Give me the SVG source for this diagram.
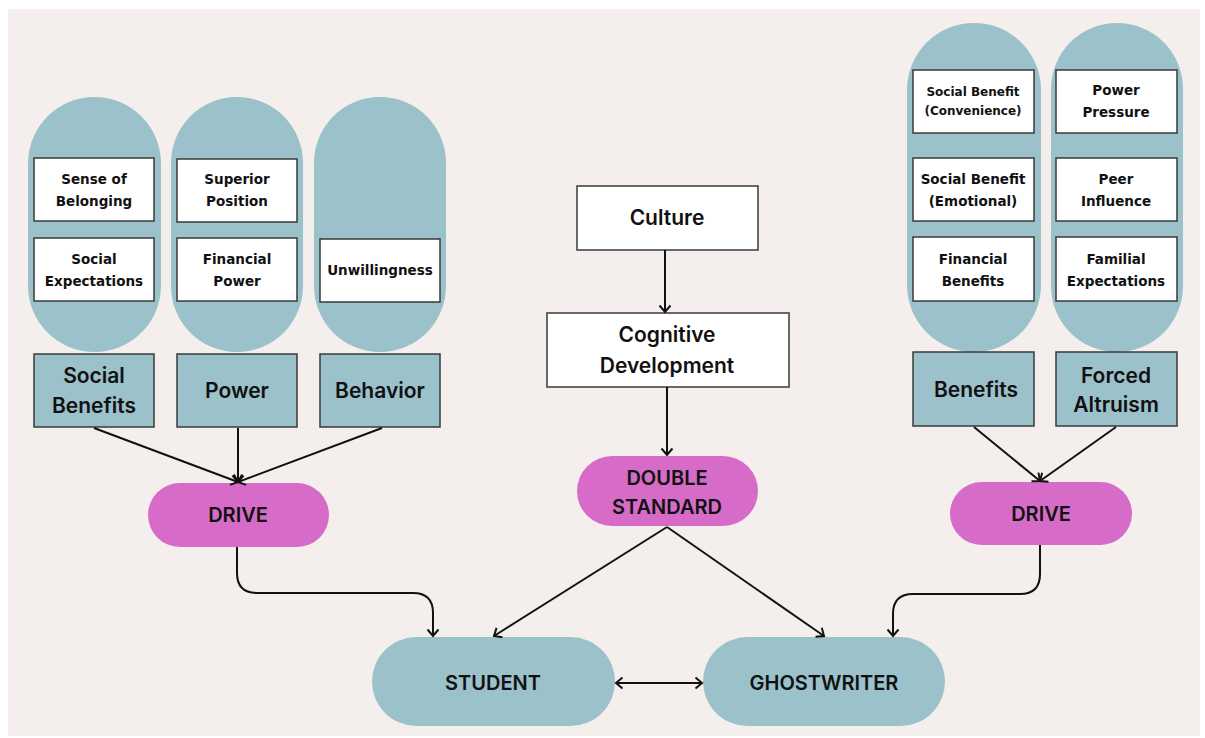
<svg xmlns="http://www.w3.org/2000/svg" width="1205" height="738" viewBox="0 0 1205 738">
<defs>
<style>
.bg{fill:#f4efec}
.pill{fill:#9bc1cb}
.mag{fill:#d66bc8}
.wbox{fill:#ffffff;stroke:#3a3a3a;stroke-width:1.5}
.bbox{fill:#9bc1cb;stroke:#3a3a3a;stroke-width:1.5}
.sm{font-family:"DejaVu Sans",sans-serif;font-weight:bold;font-size:13.5px;fill:#111;text-anchor:middle}
.lg{font-family:Inter,"Liberation Sans",sans-serif;font-weight:600;font-size:20px;fill:#111;text-anchor:middle}
.md{font-family:Inter,"Liberation Sans",sans-serif;font-weight:600;font-size:21px;fill:#111;text-anchor:middle}
.conn{fill:none;stroke:#111;stroke-width:2}
</style>
<marker id="arr" markerUnits="userSpaceOnUse" markerWidth="14" markerHeight="14" refX="10" refY="7" orient="auto">
<path d="M3.5,1.5 L10,7 L3.5,12.5" fill="none" stroke="#111" stroke-width="2"/>
</marker>
<marker id="arrs" markerUnits="userSpaceOnUse" markerWidth="14" markerHeight="14" refX="4" refY="7" orient="auto">
<path d="M10.5,1.5 L4,7 L10.5,12.5" fill="none" stroke="#111" stroke-width="2"/>
</marker>
</defs>
<rect width="1205" height="738" fill="#ffffff"/>
<rect class="bg" x="8" y="9" width="1192" height="727"/>

<g id="group-social">
<rect class="pill" x="28" y="97" width="133" height="255" rx="66.5"/>
<rect class="wbox" x="34" y="158" width="120" height="63"/>
<text class="sm" x="94" y="184">Sense of</text>
<text class="sm" x="94" y="206">Belonging</text>
<rect class="wbox" x="34" y="238" width="120" height="63"/>
<text class="sm" x="94" y="264">Social</text>
<text class="sm" x="94" y="286">Expectations</text>
</g>
<g id="group-power">
<rect class="pill" x="171" y="97" width="132" height="255" rx="66"/>
<rect class="wbox" x="177" y="159" width="120" height="63"/>
<text class="sm" x="237" y="184">Superior</text>
<text class="sm" x="237" y="206">Position</text>
<rect class="wbox" x="177" y="238" width="120" height="63"/>
<text class="sm" x="237" y="264">Financial</text>
<text class="sm" x="237" y="286">Power</text>
</g>
<g id="group-behavior">
<rect class="pill" x="314" y="97" width="132" height="255" rx="66"/>
<rect class="wbox" x="320" y="239" width="120" height="63"/>
<text class="sm" x="380" y="275">Unwillingness</text>
</g>
<g id="social-benefits">
<rect class="bbox" x="34" y="354" width="120" height="73"/>
<text class="md" x="94" y="383">Social</text>
<text class="md" x="94" y="413">Benefits</text>
</g>
<g id="power">
<rect class="bbox" x="177" y="354" width="120" height="73"/>
<text class="md" x="237" y="398">Power</text>
</g>
<g id="behavior">
<rect class="bbox" x="320" y="354" width="120" height="73"/>
<text class="md" x="380" y="398">Behavior</text>
</g>

<g id="group-benefits">
<rect class="pill" x="907" y="23" width="134" height="329" rx="67"/>
<rect class="wbox" x="913" y="70" width="121" height="63"/>
<text class="sm" x="973" y="96" style="font-size:12px">Social Benefit</text>
<text class="sm" x="973" y="115" style="font-size:12px">(Convenience)</text>
<rect class="wbox" x="913" y="158" width="121" height="63"/>
<text class="sm" x="973" y="184">Social Benefit</text>
<text class="sm" x="973" y="206">(Emotional)</text>
<rect class="wbox" x="913" y="237" width="121" height="64"/>
<text class="sm" x="973" y="264">Financial</text>
<text class="sm" x="973" y="286">Benefits</text>
</g>
<g id="group-altruism">
<rect class="pill" x="1051" y="23" width="132" height="329" rx="66"/>
<rect class="wbox" x="1056" y="70" width="121" height="63"/>
<text class="sm" x="1116" y="95">Power</text>
<text class="sm" x="1116" y="117">Pressure</text>
<rect class="wbox" x="1056" y="158" width="121" height="63"/>
<text class="sm" x="1116" y="184">Peer</text>
<text class="sm" x="1116" y="206">Influence</text>
<rect class="wbox" x="1056" y="237" width="121" height="64"/>
<text class="sm" x="1116" y="264">Familial</text>
<text class="sm" x="1116" y="286">Expectations</text>
</g>
<g id="benefits">
<rect class="bbox" x="913" y="352" width="121" height="74"/>
<text class="md" x="976" y="397">Benefits</text>
</g>
<g id="forced-altruism">
<rect class="bbox" x="1056" y="352" width="121" height="74"/>
<text class="md" x="1116" y="383">Forced</text>
<text class="md" x="1116" y="412">Altruism</text>
</g>

<g id="culture">
<rect class="wbox" x="577" y="186" width="181" height="64"/>
<text class="md" x="667" y="225">Culture</text>
</g>
<g id="cognitive-development">
<rect class="wbox" x="547" y="313" width="242" height="74"/>
<text class="md" x="667" y="342">Cognitive</text>
<text class="md" x="667" y="373">Development</text>
</g>
<g id="double-standard">
<rect class="mag" x="577" y="456" width="181" height="70" rx="35"/>
<text class="lg" x="667" y="485">DOUBLE</text>
<text class="lg" x="667" y="514">STANDARD</text>
</g>
<g id="drive-left">
<rect class="mag" x="148" y="483" width="181" height="64" rx="32"/>
<text class="lg" x="238" y="522">DRIVE</text>
</g>
<g id="drive-right">
<rect class="mag" x="950" y="482" width="182" height="63" rx="31.5"/>
<text class="lg" x="1041" y="521">DRIVE</text>
</g>
<g id="student">
<rect class="pill" x="372" y="637" width="243" height="89" rx="44.5"/>
<text class="lg" x="493" y="690">STUDENT</text>
</g>
<g id="ghostwriter">
<rect class="pill" x="703" y="637" width="242" height="89" rx="44.5"/>
<text class="lg" x="824" y="690">GHOSTWRITER</text>
</g>

<g id="connectors">
<line class="conn" x1="94" y1="428" x2="238" y2="482" marker-end="url(#arr)"/>
<line class="conn" x1="238" y1="428" x2="238" y2="482" marker-end="url(#arr)"/>
<line class="conn" x1="382" y1="428" x2="238" y2="482" marker-end="url(#arr)"/>
<line class="conn" x1="974" y1="427" x2="1040" y2="481" marker-end="url(#arr)"/>
<line class="conn" x1="1116" y1="427" x2="1040" y2="481" marker-end="url(#arr)"/>
<line class="conn" x1="665" y1="250" x2="665" y2="312" marker-end="url(#arr)"/>
<line class="conn" x1="667" y1="387" x2="667" y2="455" marker-end="url(#arr)"/>
<path class="conn" d="M237,547 V573 Q237,593 257,593 H413 Q433,593 433,613 V636" marker-end="url(#arr)"/>
<path class="conn" d="M1040,545 V574 Q1040,594 1020,594 H913 Q893,594 893,614 V636" marker-end="url(#arr)"/>
<line class="conn" x1="667" y1="527" x2="494" y2="636" marker-end="url(#arr)"/>
<line class="conn" x1="667" y1="527" x2="824" y2="636" marker-end="url(#arr)"/>
<line class="conn" x1="616" y1="683" x2="702" y2="683" marker-start="url(#arrs)" marker-end="url(#arr)"/>
</g>
</svg>
